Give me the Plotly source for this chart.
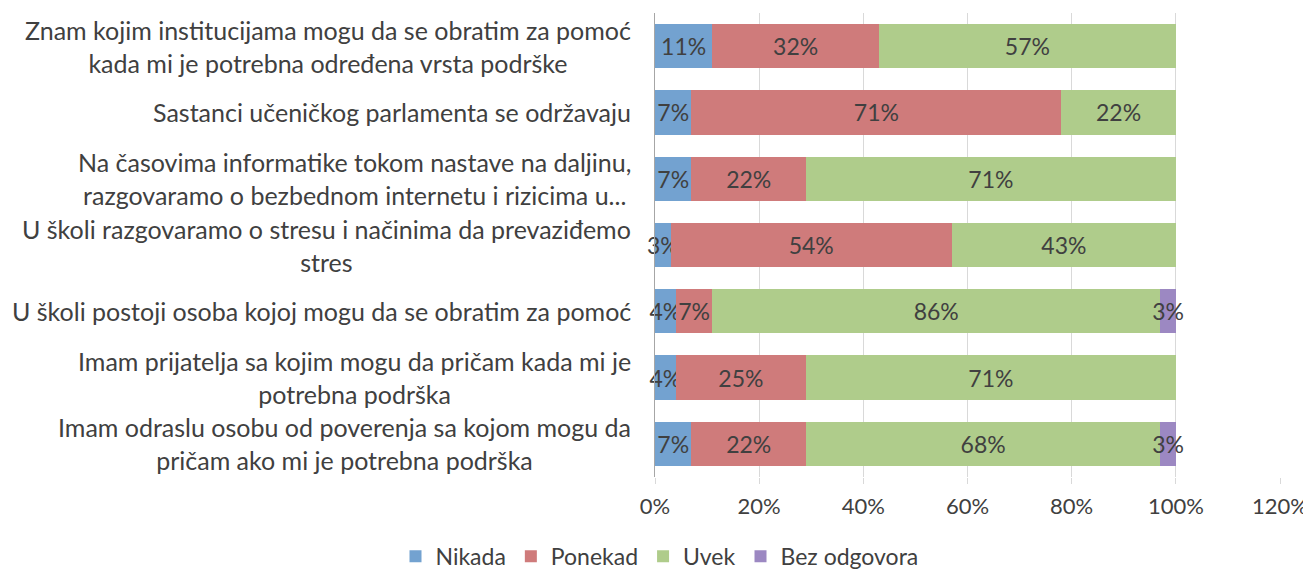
import plotly.graph_objects as go

categories = [
    "Znam kojim institucijama mogu da se obratim za pomoć<br>kada mi je potrebna određena vrsta podrške",
    "Sastanci učeničkog parlamenta se održavaju",
    "Na časovima informatike tokom nastave na daljinu,<br>razgovaramo o bezbednom internetu i rizicima u...",
    "U školi razgovaramo o stresu i načinima da prevaziđemo<br>stres",
    "U školi postoji osoba kojoj mogu da se obratim za pomoć",
    "Imam prijatelja sa kojim mogu da pričam kada mi je<br>potrebna podrška",
    "Imam odraslu osobu od poverenja sa kojom mogu da<br>pričam ako mi je potrebna podrška",
]
nikada = [11, 7, 7, 3, 4, 4, 7]
ponekad = [32, 71, 22, 54, 7, 25, 22]
uvek = [57, 22, 71, 43, 86, 71, 68]
bez_odgovora = [None, None, None, None, 3, None, 3]

series = [
    ("Nikada", nikada, "#73a2d0"),
    ("Ponekad", ponekad, "#cf7b7b"),
    ("Uvek", uvek, "#afcc8b"),
    ("Bez odgovora", bez_odgovora, "#9c88c2"),
]
x_ticks = [0, 20, 40, 60, 80, 100, 120]
FONT = "Lato"
TXT = "#404040"

ids = list(range(len(categories)))

fig = go.Figure()
for name, vals, col in series:
    fig.add_trace(go.Bar(
        name=name, y=ids, x=vals, orientation="h",
        marker=dict(color=col, line=dict(width=0)),
        text=[f"{v}%" if v is not None else "" for v in vals],
        textposition="inside", insidetextanchor="middle",
        textangle=0, constraintext="none", cliponaxis=False,
        textfont=dict(family=FONT, size=23, color=TXT),
        hoverinfo="skip",
    ))

for i, c in enumerate(categories):
    fig.add_annotation(
        x=0, xref="paper", y=ids[i], yref="y", text=c, showarrow=False,
        xanchor="right", align="center", xshift=-22,
        font=dict(family=FONT, size=25, color=TXT),
    )

fig.update_layout(
    width=1303, height=570,
    barmode="stack", bargap=0.33,
    plot_bgcolor="white", paper_bgcolor="white",
    margin=dict(l=647, r=31, t=5, b=101, autoexpand=False),
    font=dict(family=FONT, color=TXT),
    legend=dict(orientation="h", x=0.50, xanchor="center", xref="container",
                y=0.038, yref="container", yanchor="middle",
                font=dict(family=FONT, size=23, color=TXT),
                itemwidth=30, traceorder="normal"),
    xaxis=dict(range=[0, 120], tickvals=x_ticks, automargin=False,
               ticktext=[f"{t}%" for t in x_ticks],
               showgrid=True, gridcolor="#d9d9d9", gridwidth=1,
               zeroline=False, showline=False,
               ticks="outside", ticklen=6, tickcolor="#d9d9d9",
               ticklabelstandoff=4,
               tickfont=dict(family=FONT, size=22, color=TXT)),
    yaxis=dict(range=[len(categories) - 0.5, -0.5], showticklabels=False,
               showgrid=False, zeroline=False, automargin=False,
               showline=True, linecolor="#a6a6a6", linewidth=1),
)

fig.write_html("out.html")
